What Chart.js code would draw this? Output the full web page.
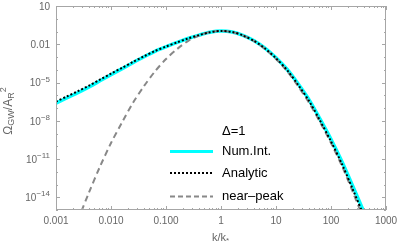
<!DOCTYPE html>
<html>
<head>
<meta charset="utf-8">
<script src="https://cdn.jsdelivr.net/npm/chart.js@4"></script>
<style>
  body { margin: 0; background: #fff; }
</style>
</head>
<body>
<canvas id="gw-chart" width="399" height="245"></canvas>
<script>
// k/k* grid (0.2 steps in log10)
const kValues = [0.001, 0.0016, 0.0025, 0.004, 0.0063, 0.01, 0.016, 0.025, 0.04, 0.063,
  0.1, 0.16, 0.25, 0.4, 0.63, 1, 1.6, 2.5, 4, 6.3, 10, 16, 25, 40, 63, 100, 160, 250, 400];

// log10 of Omega_GW / A_R^2
const numIntLog = [-6.63, -6.2, -5.8, -5.35, -4.87, -4.39, -3.91, -3.45, -2.98, -2.56,
  -2.2, -1.86, -1.55, -1.28, -1.06, -0.96, -1.04, -1.3, -1.72, -2.3,
  -3.06, -3.98, -5.08, -6.36, -7.85, -9.45, -11.25, -13.15, -15.2];
const analyticLog = [-6.5, -6.08, -5.68, -5.24, -4.77, -4.3, -3.84, -3.39, -2.94, -2.53,
  -2.18, -1.85, -1.55, -1.28, -1.06, -0.96, -1.04, -1.31, -1.74, -2.33,
  -3.1, -4.04, -5.16, -6.46, -7.98, -9.62, -11.45, -13.4, -15.5];
const nearPeakLog = [null, null, -15.8, -13.6, -11.6, -9.75, -8.1, -6.6, -5.27, -4.13,
  -3.16, -2.37, -1.75, -1.31, -1.05, -0.96, -1.05, -1.31, -1.75, -2.37,
  -3.16, -4.13, -5.27, -6.6, -8.1, -9.75, -11.6, -13.6, -15.8];

const xTickValues = [0.001, 0.01, 0.1, 1, 10, 100, 1000];
const xTickLabels = ['0.001', '0.010', '0.100', '1', '10', '100', '1000'];
const yTickValues = [10, 0.01, 1e-5, 1e-8, 1e-11, 1e-14];
const yTickBases = ['10', '0.01', '10', '10', '10', '10'];
const yTickSups = ['', '', '\u22125', '\u22128', '\u221211', '\u221214'];

const legendLabels = ['Num.Int.', 'Analytic', 'near\u2013peak'];

function toPoints(logs) {
  const pts = [];
  logs.forEach((v, i) => {
    if (v !== null) pts.push({ x: kValues[i], y: Math.pow(10, v) });
  });
  return pts;
}

const FONT = '"Liberation Sans", Arial, sans-serif';
const AXIS_GRAY = '#a6a6a6';
const TEXT_GRAY = '#666';

// draws the mathematica style frame, inward ticks, labels and legend
const framePlugin = {
  id: 'frame',
  afterDraw(chart) {
    const { ctx, chartArea: a, scales: { x, y } } = chart;
    ctx.save();
    ctx.strokeStyle = AXIS_GRAY;
    ctx.lineWidth = 1;
    ctx.strokeRect(a.left + 0.5, a.top + 0.5, a.right - a.left - 1, a.bottom - a.top - 1);

    ctx.beginPath();
    // x ticks, bottom and top
    for (let d = -3; d <= 3; d++) {
      for (let m = 1; m <= 9; m++) {
        const v = m * Math.pow(10, d);
        if (v > 1000 || (d === 3 && m > 1)) continue;
        const px = Math.round(x.getPixelForValue(v)) + 0.5;
        const len = m === 1 ? 4 : 2;
        ctx.moveTo(px, a.bottom); ctx.lineTo(px, a.bottom - len);
        ctx.moveTo(px, a.top); ctx.lineTo(px, a.top + len);
      }
    }
    // y ticks, left and right
    for (let d = -15; d <= 1; d++) {
      const py = Math.round(y.getPixelForValue(Math.pow(10, d))) + 0.5;
      const len = (d - 1) % 3 === 0 ? 4 : 2;
      ctx.moveTo(a.left, py); ctx.lineTo(a.left + len, py);
      ctx.moveTo(a.right, py); ctx.lineTo(a.right - len, py);
    }
    ctx.stroke();

    // tick labels
    ctx.fillStyle = TEXT_GRAY;
    ctx.font = '10px ' + FONT;
    ctx.textAlign = 'center';
    ctx.textBaseline = 'middle';
    xTickValues.forEach((v, i) => {
      ctx.fillText(xTickLabels[i], x.getPixelForValue(v), a.bottom + 11);
    });
    yTickValues.forEach((v, i) => {
      const py = y.getPixelForValue(v);
      ctx.font = '10px ' + FONT;
      const wb = ctx.measureText(yTickBases[i]).width;
      ctx.font = '8px ' + FONT;
      const ws = ctx.measureText(yTickSups[i]).width;
      const right = a.left - 6;
      ctx.textAlign = 'left';
      ctx.font = '10px ' + FONT;
      ctx.fillText(yTickBases[i], right - wb - ws, py + 1);
      ctx.font = '8px ' + FONT;
      ctx.fillText(yTickSups[i], right - ws, py - 3);
    });

    // x title k/k*
    ctx.textAlign = 'left';
    ctx.font = '11px ' + FONT;
    const cx = (a.left + a.right) / 2;
    const wMain = ctx.measureText('k/k').width;
    ctx.fillText('k/k', cx - wMain / 2 - 2, 238);
    ctx.font = '8px ' + FONT;
    ctx.fillText('*', cx + wMain / 2 - 2, 241);

    // y title rotated
    ctx.save();
    ctx.translate(9, (a.top + a.bottom) / 2 + 3);
    ctx.rotate(-Math.PI / 2);
    const parts = [['\u03A9', 12, 0], ['GW', 9, 3], ['/A', 12, 0], ['R', 9, 3], ['2', 9, -5]];
    let total = 0;
    parts.forEach(p => { ctx.font = p[1] + 'px ' + FONT; total += ctx.measureText(p[0]).width; });
    let tx = -total / 2;
    parts.forEach(p => {
      ctx.font = p[1] + 'px ' + FONT;
      ctx.fillText(p[0], tx, p[2]);
      tx += ctx.measureText(p[0]).width;
    });
    ctx.restore();

    // legend
    ctx.fillStyle = '#000';
    ctx.font = '13px ' + FONT;
    ctx.textAlign = 'left';
    ctx.fillText('\u0394=1', 222, 131);
    const rows = [151.5, 173, 196.5];
    const styles = [
      { color: '#00ffff', width: 3, dash: [] },
      { color: '#000', width: 2, dash: [2, 2] },
      { color: '#888', width: 2, dash: [5, 3] }
    ];
    rows.forEach((ry, i) => {
      const s = styles[i];
      ctx.beginPath();
      ctx.strokeStyle = s.color;
      ctx.lineWidth = s.width;
      ctx.setLineDash(s.dash);
      ctx.moveTo(170, ry); ctx.lineTo(213, ry);
      ctx.stroke();
      ctx.setLineDash([]);
      ctx.fillText(legendLabels[i], 222, ry);
    });
    ctx.restore();
  }
};

new Chart(document.getElementById('gw-chart'), {
  type: 'scatter',
  data: {
    datasets: [
      {
        label: legendLabels[1],
        data: toPoints(analyticLog),
        showLine: true,
        borderColor: '#000',
        borderWidth: 2,
        borderDash: [2, 2],
        pointRadius: 0,
        tension: 0.3,
        order: 0
      },
      {
        label: legendLabels[2],
        data: toPoints(nearPeakLog),
        showLine: true,
        borderColor: '#888',
        borderWidth: 2,
        borderDash: [6, 4],
        pointRadius: 0,
        tension: 0.3,
        order: 1
      },
      {
        label: legendLabels[0],
        data: toPoints(numIntLog),
        showLine: true,
        borderColor: '#00ffff',
        borderWidth: 3.5,
        pointRadius: 0,
        tension: 0.3,
        order: 2
      }
    ]
  },
  options: {
    responsive: false,
    animation: false,
    layout: { padding: { left: 56, right: 13, top: 6, bottom: 35 } },
    plugins: { legend: { display: false }, tooltip: { enabled: false } },
    scales: {
      x: { type: 'logarithmic', min: 0.001, max: 1000, display: false },
      y: { type: 'logarithmic', min: 1e-15, max: 10, display: false }
    }
  },
  plugins: [framePlugin]
});
</script>
</body>
</html>
